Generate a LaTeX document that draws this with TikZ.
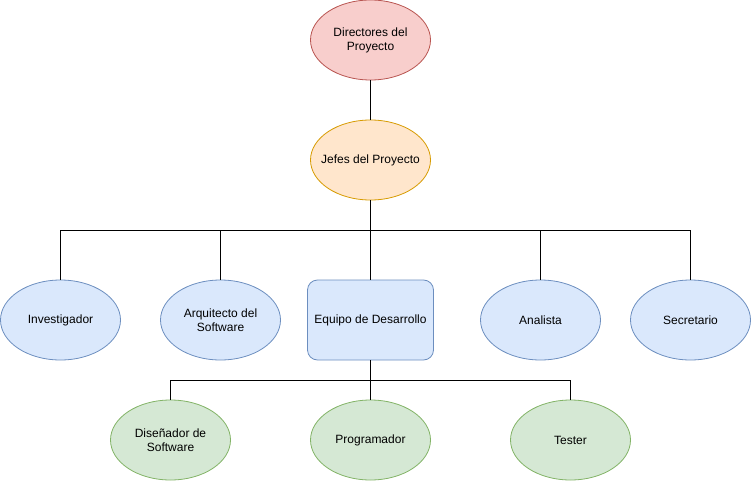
\documentclass[tikz,border=0pt]{standalone}
\usepackage{fontspec}
\setmainfont{Liberation Sans}
\usetikzlibrary{shapes.geometric}
\definecolor{redfill}{HTML}{F8CECC}
\definecolor{redline}{HTML}{B85450}
\definecolor{orangefill}{HTML}{FFE6CC}
\definecolor{orangeline}{HTML}{D79B00}
\definecolor{bluefill}{HTML}{DAE8FC}
\definecolor{blueline}{HTML}{6C8EBF}
\definecolor{greenfill}{HTML}{D5E8D4}
\definecolor{greenline}{HTML}{82B366}
\begin{document}
\begin{tikzpicture}[x=1pt,y=-1pt,
  role/.style={ellipse,minimum width=120pt,minimum height=80pt,inner sep=0pt,
    align=center,font=\fontsize{12}{14}\selectfont,line width=0.8pt},
  boss/.style={role,draw=redline,fill=redfill},
  chief/.style={role,inner xsep=-10pt,draw=orangeline,fill=orangefill},
  staff/.style={role,draw=blueline,fill=bluefill},
  team/.style={rectangle,rounded corners=10pt,minimum width=126pt,minimum height=80pt,
    inner sep=0pt,align=center,font=\fontsize{12}{14}\selectfont,line width=0.8pt,
    draw=blueline,fill=bluefill},
  dev/.style={role,draw=greenline,fill=greenfill},
  link/.style={line width=0.8pt}]
\useasboundingbox (0,0) rectangle (751,481);
% jefatura
\node[boss] (dir) at (370.5,40) {Directores del\\Proyecto};
\node[chief] (jef) at (370.5,160) {Jefes del Proyecto};
% primer nivel
\node[staff] (inv) at (60.5,320) {Investigador};
\node[staff] (arq) at (220.5,320) {Arquitecto del\\Software};
\node[team] (equ) at (370.5,320) {Equipo de Desarrollo};
\node[staff] (ana) at (540.5,320) {Analista};
\node[staff] (sec) at (690.5,320) {Secretario};
% equipo
\node[dev] (dis) at (170.5,440) {Diseñador de\\Software};
\node[dev] (pro) at (370.5,440) {Programador};
\node[dev] (tes) at (570.5,440) {Tester};
% conexiones
\draw[link] (dir) -- (jef);
\foreach \n in {inv,arq,equ,ana,sec}
  \draw[link] (jef.south) -- ++(0,30) -| (\n.north);
\foreach \n in {dis,pro,tes}
  \draw[link] (equ.south) -- ++(0,20) -| (\n.north);
\end{tikzpicture}
\end{document}
